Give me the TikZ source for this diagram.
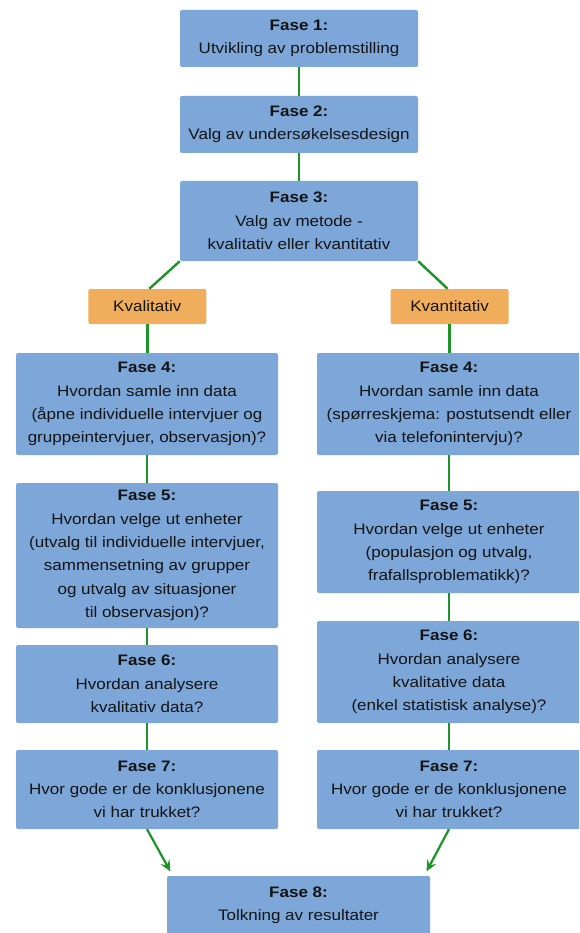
\documentclass[tikz,border=0pt]{standalone}
\usepackage{fontspec}
\setmainfont{Liberation Sans}[FakeStretch=1.12]
\usetikzlibrary{arrows.meta,calc}
\definecolor{boxblue}{HTML}{7DA7D9}
\definecolor{boxorange}{HTML}{F0AD5B}
\definecolor{linegreen}{HTML}{1C9426}
\begin{document}
\begin{tikzpicture}[x=1pt,y=-1pt,
  box/.style={fill=boxblue, rounded corners=2pt, inner sep=0pt, align=center,
    font=\fontsize{15.2}{23.3}\selectfont, text=black!92},
  obox/.style={fill=boxorange, rounded corners=2pt, inner sep=0pt, align=center,
    font=\fontsize{15.2}{23.3}\selectfont, text=black!92,
    minimum width=118pt, minimum height=35pt},
  conn/.style={draw=linegreen, line width=2.4pt},
  arr/.style={draw=linegreen, line width=2.2pt, -{Stealth[length=11pt,width=10pt,inset=4pt]}, shorten >=5pt}
]
\clip (0,0) rectangle (579,933);
\fill[white] (0,0) rectangle (579,933);

\node[box, minimum width=238pt, minimum height=57pt] (f1) at (299,38.5)
  {\textbf{Fase 1:}\\Utvikling av problemstilling};
\node[box, minimum width=238pt, minimum height=57pt] (f2) at (299,124.5)
  {\textbf{Fase 2:}\\Valg av undersøkelsesdesign};
\node[box, minimum width=238pt, minimum height=80pt] (f3) at (299,221)
  {\textbf{Fase 3:}\\Valg av metode -\\kvalitativ eller kvantitativ};

\node[obox] (kval) at (147.3,306.5) {Kvalitativ};
\node[obox] (kvant) at (449.6,306.5) {Kvantitativ};

\node[box, minimum width=262pt, minimum height=102pt] (l4) at (147,404)
  {\textbf{Fase 4:}\\Hvordan samle inn data\\(åpne individuelle intervjuer og\\gruppeintervjuer, observasjon)?};
\node[box, minimum width=262pt, minimum height=145pt] (l5) at (147,555.5)
  {\textbf{Fase 5:}\\Hvordan velge ut enheter\\(utvalg til individuelle intervjuer,\\sammensetning av grupper\\og utvalg av situasjoner\\til observasjon)?};
\node[box, minimum width=262pt, minimum height=78pt] (l6) at (147,684)
  {\textbf{Fase 6:}\\Hvordan analysere\\kvalitativ data?};
\node[box, minimum width=262pt, minimum height=79pt] (l7) at (147,789.5)
  {\textbf{Fase 7:}\\Hvor gode er de konklusjonene\\vi har trukket?};

\node[box, minimum width=264pt, minimum height=102pt] (r4) at (449,404)
  {\textbf{Fase 4:}\\Hvordan samle inn data\\(spørreskjema: postutsendt eller\\via telefonintervju)?};
\node[box, minimum width=264pt, minimum height=102pt] (r5) at (449,542)
  {\textbf{Fase 5:}\\Hvordan velge ut enheter\\(populasjon og utvalg,\\frafallsproblematikk)?};
\node[box, minimum width=264pt, minimum height=102pt] (r6) at (449,672)
  {\textbf{Fase 6:}\\Hvordan analysere\\kvalitative data\\(enkel statistisk analyse)?};
\node[box, minimum width=264pt, minimum height=79pt] (r7) at (449,789.5)
  {\textbf{Fase 7:}\\Hvor gode er de konklusjonene\\vi har trukket?};

\node[box, minimum width=263pt, minimum height=58pt] (f8) at (298.5,905)
  {\textbf{Fase 8:}\\Tolkning av resultater};

\draw[conn] (f1.south) -- (f2.north);
\draw[conn] (f2.south) -- (f3.north);
\draw[conn] (f3.south west) -- ($(kval.north)+(2,0)$);
\draw[conn] (f3.south east) -- ($(kvant.north)+(-2,0)$);
\draw[conn] (kval.south) -- (kval.south |- l4.north);
\draw[conn] (l4.south) -- (l5.north);
\draw[conn] (l5.south) -- (l6.north);
\draw[conn] (l6.south) -- (l7.north);
\draw[conn] (kvant.south) -- (kvant.south |- r4.north);
\draw[conn] (r4.south) -- (r5.north);
\draw[conn] (r5.south) -- (r6.north);
\draw[conn] (r6.south) -- (r7.north);
\draw[arr] (l7.south) -- ($(f8.north west)+(6,0)$);
\draw[arr] (r7.south) -- ($(f8.north east)+(-6,0)$);
\end{tikzpicture}
\end{document}
